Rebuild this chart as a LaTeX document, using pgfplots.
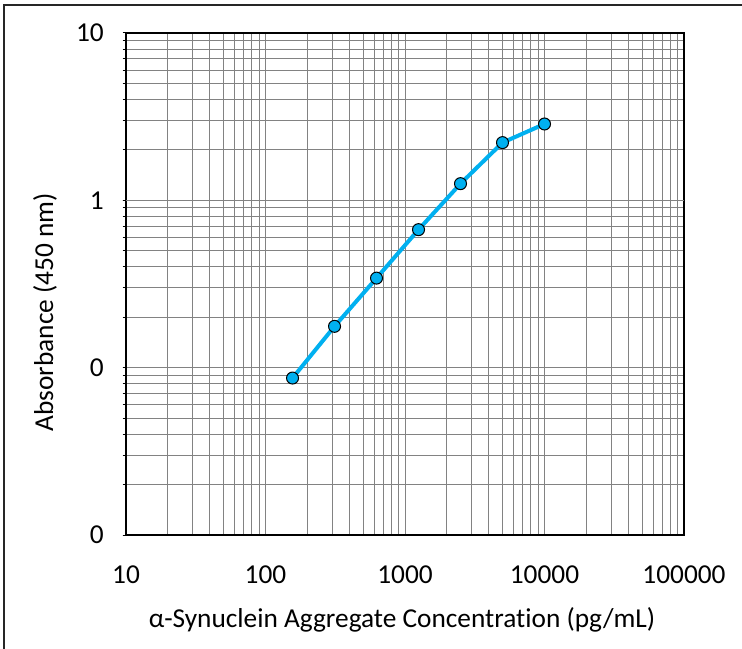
\documentclass[border=0pt]{standalone}
\usepackage{fontspec}
\setmainfont{Carlito}[Ligatures=CommonOff]
\usepackage{pgfplots}
\pgfplotsset{compat=1.18}

\definecolor{curve}{RGB}{0,176,240}
\definecolor{gridgray}{RGB}{130,130,130}

\begin{document}
\begin{tikzpicture}
% picture size 742x649 px, 1px = 0.75pt
\useasboundingbox (0,0) rectangle (556.5pt,486.75pt);
\draw[line width=1pt, black!85] (3pt,0) -- (3pt,483pt) -- (556.5pt,483pt);

\begin{axis}[
    at={(94.5pt,85.5pt)}, anchor=south west,
    scale only axis,
    width=418.5pt, height=376.5pt,
    xmode=log, ymode=log,
    xmin=10, xmax=100000,
    ymin=0.01, ymax=10,
    xtick={10,100,1000,10000,100000},
    xticklabels={10,100,1000,10000,100000},
    ytick={0.01,0.1,1,10},
    yticklabels={0,0,1,10},
    grid=both,
    major grid style={gridgray, line width=0.75pt},
    minor grid style={gridgray, line width=0.75pt},
    axis line style={black, line width=1.5pt},
    tick align=outside,
    ytick pos=left,
    x tick style={draw=none},
    y tick style={black, line width=0.75pt},
    major tick length=2.5pt, minor tick length=2.5pt,
    extra y ticks={1}, extra y tick labels={},
    extra y tick style={grid style={black, line width=1pt}},
    ticklabel style={font=\fontsize{20.5}{22}\selectfont},
    xticklabel style={anchor=center, yshift=-27.5pt},
    yticklabel style={anchor=east, inner sep=0pt, xshift=-14pt},
    xlabel={α-Synuclein Aggregate Concentration (pg/mL)},
    ylabel={Absorbance (450 nm)},
    label style={font=\fontsize{20.5}{22}\selectfont},
    xlabel style={at={(axis description cs:0.4946,-0.1693)}, anchor=center},
    ylabel style={at={(axis description cs:-0.1452,0.444)}, anchor=center, rotate=0},
    clip=false,
]
\addplot[curve, line width=3pt, mark=*, mark size=4.5pt,
    mark options={fill=curve, draw=black, line width=0.75pt}]
    coordinates {
    (156.25,0.0867)
    (312.5,0.1766)
    (625,0.343)
    (1250,0.668)
    (2500,1.258)
    (5000,2.213)
    (10000,2.859)
};
\end{axis}
\end{tikzpicture}
\end{document}
